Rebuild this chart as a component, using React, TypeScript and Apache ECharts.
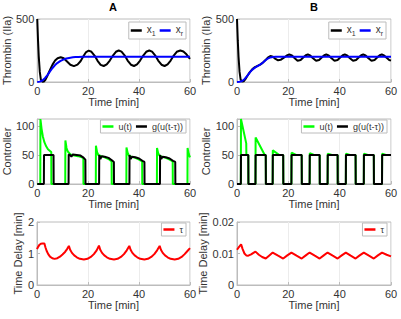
import React, { useEffect, useRef } from 'react';
import * as echarts from 'echarts';

const panelTitles = ['A', 'B'];
const timeTicks = [0, 20, 40, 60];
const thrombinTicks = [0, 500];
const controllerTicks = [0, 50, 100];
const delayTicksA = [0, 1, 2];
const delayTicksB = [0, 0.01, 0.02];

const x1A = [[0,500],[0.3,330],[0.6,200],[1,80],[1.4,20],[2,2],[2.6,4],[3.2,18],[4,50],[5,95],[6,138],[7,170],[8,189],[9.2,196],[10.4,188],[11.7,163],[13,137],[14.4,126],[15.8,138],[17,165],[18.3,210],[19.2,238],[20.2,249],[21.3,240],[22.5,210],[23.7,168],[24.9,136],[26.1,127],[27.3,140],[28.5,170],[29.8,212],[30.9,240],[32,250],[33.1,241],[34.3,212],[35.5,170],[36.8,137],[38,127],[39.2,140],[40.4,170],[41.7,212],[42.8,240],[44,250],[45.1,241],[46.3,212],[47.5,170],[48.8,137],[50,127],[51.2,140],[52.4,170],[53.6,210],[54.8,240],[56.2,250],[57.4,242],[58.6,220],[60,183]];
const xrA = [[0,0],[1,3],[2,12],[3,30],[4,55],[5,84],[6,111],[7,134],[8,152],[9,166],[10,176],[11,184],[12,189],[13,193],[14,196],[15,198],[16,199],[18,200],[60,200]];
const x1B = [[0,500],[0.3,330],[0.6,200],[1,80],[1.4,20],[2,3],[2.6,5],[3.2,20],[4,48],[5,78],[6,102],[7,118],[8,128],[9,138],[10,152],[11,172],[12,194],[13,206],[14,200],[15,183],[16,172],[17,176],[18.4,195],[19.4,211],[20.4,218],[21.4,211],[22.4,190],[23.6,168],[24.8,175],[25.9,196],[26.8,212],[27.6,218],[28.5,211],[29.5,190],[30.8,168],[32,175],[33.1,196],[34,212],[34.8,218],[35.7,211],[36.7,190],[38,168],[39.2,175],[40.3,196],[41.2,212],[42,218],[42.9,211],[43.9,190],[45.2,168],[46.4,175],[47.5,196],[48.4,212],[49.2,218],[50.1,211],[51.1,190],[52.4,168],[53.6,175],[54.7,196],[55.6,212],[56.4,218],[57.3,211],[58.3,192],[59.3,175],[60,170]];
const xrB = [[0,0],[1,2],[2,8],[3,24],[4,48],[5,76],[6,98],[7,114],[8,126],[9,138],[10,153],[11,170],[12,186],[13,195],[14,199],[15,200],[60,200]];

const uA = [[0,0],[1.2,0],[1.25,112],[1.7,95],[2.2,82],[2.8,72],[3.5,65],[4.2,60],[5,57],[5.5,55],[5.55,0],[11,0],[11.05,75],[11.5,62],[12,56],[13,51],[14.5,49],[16,48],[17.5,46],[18.1,45],[18.15,0],[23,0],[23.05,66],[23.5,55],[24,50],[25,48],[26.5,46],[28,43],[29.2,39],[29.25,0],[35,0],[35.05,63],[35.5,54],[36,49],[37,47],[38.5,45],[40,42],[41.2,39],[41.25,0],[47,0],[47.05,62],[47.5,53],[48,49],[49,47],[50.5,45],[52,42],[53.2,39],[53.25,0],[59,0],[59.05,62],[59.5,52],[60,46]];
const gA = [[0,0],[2.6,0],[2.65,50],[6.4,50],[6.45,0],[12.3,0],[12.35,51],[12.9,50],[13.4,47],[14,51],[15.5,50],[17,49],[18,46],[18.9,42],[18.95,0],[24.3,0],[24.35,50],[24.8,43],[25.3,48],[26.5,47],[28,45],[29.3,41],[30.1,38],[30.15,0],[36.2,0],[36.25,50],[36.7,43],[37.2,47],[38.5,46],[40,44],[41.3,40],[42.1,38],[42.15,0],[48.2,0],[48.25,50],[48.7,43],[49.2,47],[50.5,46],[52,44],[53.3,40],[54.2,38],[54.25,0],[60,0]];
const uB = [[0,0],[1.5,0],[1.55,112],[3.6,70],[3.65,50],[4.4,50],[4.45,0],[7.2,0],[7.25,80],[10.8,50],[11.2,50],[11.25,0],[13.9,0],[13.95,58],[16.5,50],[18,50],[18.05,0],[21.2,0],[21.25,54],[23,50],[25.2,50],[25.25,0],[28.3,0],[28.35,53],[30,50],[32.2,50],[32.25,0],[35.3,0],[35.35,52],[37,50],[39.2,50],[39.25,0],[42.4,0],[42.45,52],[44,50],[46.2,50],[46.25,0],[49.4,0],[49.45,52],[51,50],[53.3,50],[53.35,0],[56.5,0],[56.55,52],[58,50],[60,50]];
const gB = [[0,0],[1.5,0],[1.55,50],[4.4,50],[4.45,0],[7.2,0],[7.25,50],[11.2,50],[11.25,0],[13.9,0],[13.95,50],[18,50],[18.05,0],[21.2,0],[21.25,50],[25.2,50],[25.25,0],[28.3,0],[28.35,50],[32.2,50],[32.25,0],[35.3,0],[35.35,50],[39.2,50],[39.25,0],[42.4,0],[42.45,50],[46.2,50],[46.25,0],[49.4,0],[49.45,50],[53.3,50],[53.35,0],[56.5,0],[56.55,50],[60,50]];

const tauA = [[0,1.14],[0.5,1.22],[1,1.28],[1.5,1.31],[2.2,1.32],[2.9,1.32],[3.3,1.2],[3.8,1.08],[4.4,0.98],[5.1,0.9],[6,0.85],[6.9,0.83],[8,0.85],[9,0.9],[10,0.97],[11,1.05],[11.8,1.14],[12.5,1.24],[13,1.12],[13.7,1.02],[14.6,0.94],[15.6,0.88],[16.8,0.83],[18.4,0.81],[19.8,0.83],[21.1,0.89],[22.3,0.98],[23.4,1.1],[24.3,1.25],[24.8,1.12],[25.5,1.02],[26.4,0.94],[27.4,0.88],[28.6,0.83],[30.2,0.81],[31.6,0.83],[32.9,0.89],[34.1,0.98],[35.2,1.1],[36.2,1.24],[36.7,1.12],[37.4,1.02],[38.3,0.94],[39.3,0.88],[40.5,0.83],[42.1,0.81],[43.5,0.83],[44.8,0.89],[46,0.98],[47.1,1.1],[48.1,1.24],[48.6,1.12],[49.3,1.02],[50.2,0.94],[51.2,0.88],[52.4,0.83],[54,0.81],[55.4,0.83],[56.7,0.89],[57.9,0.98],[59,1.08],[60,1.17]];
const tauB = [[0,0.0112],[0.8,0.0121],[1.6,0.0129],[2.2,0.0114],[2.9,0.0100],[3.6,0.0094],[4.4,0.0093],[5.5,0.0097],[6.4,0.0102],[7.2,0.0106],[8.5,0.0096],[9.8,0.0089],[11.2,0.0084],[12.6,0.0094],[13.9,0.0103],[16,0.0093],[18,0.0084],[19.6,0.0094],[21.2,0.0103],[23.2,0.0093],[25.2,0.0084],[26.8,0.0094],[28.3,0.0103],[30.3,0.0093],[32.2,0.0084],[33.8,0.0094],[35.3,0.0103],[37.3,0.0093],[39.2,0.0084],[40.8,0.0094],[42.4,0.0103],[44.3,0.0093],[46.2,0.0084],[47.8,0.0094],[49.4,0.0103],[51.4,0.0093],[53.3,0.0084],[54.9,0.0094],[56.5,0.0103],[58.3,0.0096],[60,0.0091]];

const FONT = 'Liberation Sans, Arial, Helvetica, sans-serif';
const AXIS = '#bcbcbc';
const TXT = '#333333';

export default function App() {
  const ref = useRef<HTMLDivElement>(null);
  useEffect(() => {
    if (!ref.current) return;
    const chart = echarts.init(ref.current, undefined, { renderer: 'svg' });

    const grids = [
      { left: 37, top: 19, width: 153, height: 63 },
      { left: 237, top: 19, width: 154, height: 63 },
      { left: 37, top: 119, width: 153, height: 65 },
      { left: 237, top: 119, width: 154, height: 65 },
      { left: 37, top: 222, width: 153, height: 63 },
      { left: 237, top: 222, width: 154, height: 63 },
    ];
    const xGaps = [9, 9, 14, 14, 13, 13];
    const yNames = ['Thrombin (IIa)', 'Thrombin (IIa)', 'Controller', 'Controller', 'Time Delay [min]', 'Time Delay [min]'];
    const yGaps = [20, 20, 20, 20, 9, 24];
    const yCfg = [
      { max: 500, interval: 500, ticks: thrombinTicks },
      { max: 500, interval: 500, ticks: thrombinTicks },
      { max: 112, interval: 50, ticks: controllerTicks },
      { max: 112, interval: 50, ticks: controllerTicks },
      { max: 2, interval: 1, ticks: delayTicksA },
      { max: 0.02, interval: 0.01, ticks: delayTicksB },
    ];

    const xAxis = grids.map((_, i) => ({
      type: 'value', gridIndex: i, min: 0, max: 60, interval: 20,
      name: 'Time [min]', nameLocation: 'middle', nameGap: xGaps[i],
      nameTextStyle: { fontSize: 11, color: TXT, fontFamily: FONT },
      axisLine: { show: true, lineStyle: { color: AXIS, width: 1 } },
      axisTick: { show: true, inside: true, length: 3, lineStyle: { color: AXIS } },
      axisLabel: {
        fontSize: 11, color: TXT, fontFamily: FONT, margin: 3,
        formatter: (v: number) => (timeTicks.includes(v) ? String(v) : ''),
      },
      splitLine: { show: true, lineStyle: { color: '#ececec', width: 1 } },
    }));
    const yAxis = grids.map((_, i) => ({
      type: 'value', gridIndex: i, min: 0, max: yCfg[i].max, interval: yCfg[i].interval,
      name: yNames[i], nameLocation: 'middle', nameGap: yGaps[i],
      nameTextStyle: { fontSize: 11, color: TXT, fontFamily: FONT },
      axisLine: { show: true, lineStyle: { color: AXIS, width: 1 } },
      axisTick: { show: true, inside: true, length: 3, lineStyle: { color: AXIS } },
      axisLabel: {
        fontSize: 11, color: TXT, fontFamily: FONT, margin: 3,
        showMaxLabel: true,
        formatter: (v: number) => (yCfg[i].ticks.some((t) => Math.abs(t - v) < 1e-9) ? String(v) : ''),
      },
      splitLine: { show: false },
    }));

    const line = (name: string, data: number[][], color: string, idx: number) => ({
      type: 'line', name, data, xAxisIndex: idx, yAxisIndex: idx,
      showSymbol: false, symbol: 'none', smooth: false, silent: true,
      lineStyle: { color, width: 2 }, itemStyle: { color },
    });

    const series = [
      line('x1', x1A, '#000000', 0), line('xr', xrA, '#0000ff', 0),
      line('x1', x1B, '#000000', 1), line('xr', xrB, '#0000ff', 1),
      line('u(t)', uA, '#00ff00', 2), line('g(u(t-τ))', gA, '#000000', 2),
      line('u(t)', uB, '#00ff00', 3), line('g(u(t-τ))', gB, '#000000', 3),
      line('τ', tauA, '#ff0000', 4),
      line('τ', tauB, '#ff0000', 5),
    ];

    const legendBase = {
      icon: 'rect', itemWidth: 11, itemHeight: 2.5, itemGap: 4,
      padding: [2, 3, 2, 2], borderColor: AXIS, borderWidth: 1, backgroundColor: '#ffffff',
      selectedMode: false,
      textStyle: {
        fontSize: 9, color: TXT, fontFamily: FONT,
        rich: {
          v: { fontSize: 10, color: TXT, fontFamily: FONT, padding: [0, 0, 3, 0] },
          s: { fontSize: 7, color: TXT, fontFamily: FONT, verticalAlign: 'bottom' },
        },
      },
    };
    const subFmt = (n: string) => (n === 'x1' ? '{v|x}{s|1}' : n === 'xr' ? '{v|x}{s|r}' : n);
    const legend = [
      { ...legendBase, data: ['x1', 'xr'], right: 215, top: 22, formatter: subFmt },
      { ...legendBase, data: ['x1', 'xr'], right: 15, top: 22, formatter: subFmt },
      { ...legendBase, data: ['u(t)', 'g(u(t-τ))'], right: 215, top: 120 },
      { ...legendBase, data: ['u(t)', 'g(u(t-τ))'], right: 14, top: 120 },
      { ...legendBase, data: ['τ'], right: 215, top: 223 },
      { ...legendBase, data: ['τ'], right: 14, top: 223 },
    ];

    const titleX = [113, 314];
    const graphic = panelTitles.map((t, i) => ({
      type: 'text', x: titleX[i], y: 7,
      style: { text: t, textAlign: 'center', textVerticalAlign: 'middle', fontSize: 11, fontWeight: 'bold', fontFamily: FONT, fill: '#000' },
    }));

    chart.setOption({
      animation: false,
      backgroundColor: '#ffffff',
      grid: grids.map((g) => ({ ...g, show: true, borderColor: AXIS, borderWidth: 1, backgroundColor: 'transparent', containLabel: false })),
      xAxis, yAxis, series, legend, graphic,
    });
    return () => chart.dispose();
  }, []);
  return <div ref={ref} style={{ position: 'fixed', left: 0, top: 0, width: 401, height: 319 }} />;
}
